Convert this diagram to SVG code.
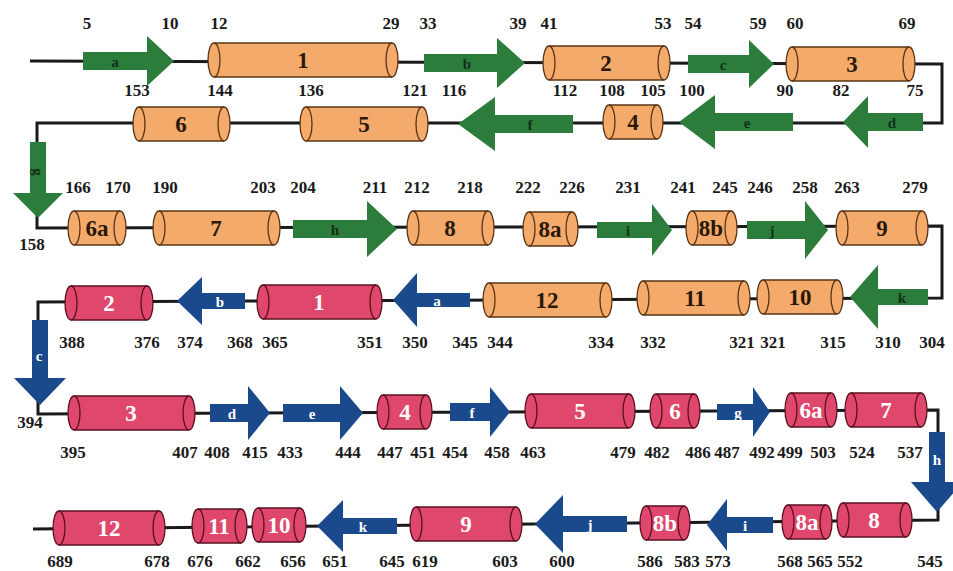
<svg xmlns="http://www.w3.org/2000/svg" width="953" height="571" viewBox="0 0 953 571">
<style>
.bg{fill:#ffffff}
.ln{fill:none;stroke:#1a1a1a;stroke-width:3}
.ho{fill:#F3AA6B;stroke:#5a3414;stroke-width:1.3}
.hr{fill:#E0476C;stroke:#5a1020;stroke-width:1.3}
.in{fill:none;stroke-width:1.3}
.io{stroke:#5a3414}
.ir{stroke:#5a1020}
.ag{fill:#2C7D3B}
.ab{fill:#1B4A8C}
.num{font-family:"Liberation Serif","Times New Roman",serif;font-weight:bold;font-size:17px;fill:#1a1a1a;text-anchor:middle}
.hlo{font-family:"Liberation Serif","Times New Roman",serif;font-weight:bold;font-size:23px;fill:#2a1808;text-anchor:middle;dominant-baseline:central}
.hlr{font-family:"Liberation Serif","Times New Roman",serif;font-weight:bold;font-size:23px;fill:#ffffff;text-anchor:middle;dominant-baseline:central}
.alg{font-family:"Liberation Serif","Times New Roman",serif;font-weight:bold;font-size:15px;fill:#12301a;text-anchor:middle;dominant-baseline:central}
.alb{font-family:"Liberation Serif","Times New Roman",serif;font-weight:bold;font-size:15px;fill:#ffffff;text-anchor:middle;dominant-baseline:central}
</style>
<rect class="bg" x="0" y="0" width="953" height="571"/>
<g id="connectors">
<path class="ln" d="M30,61 L942,64 V123 L37,123 V228 L942,226 V298 L38,302 V414 L938,410 V520 L33,529"/>
</g>
<!-- Row 1 -->
<g id="sa1"><path class="ag" d="M83,52 H147 V36 L174,61 L147,86 V70 H83 Z"/><text class="alg" x="115" y="62">a</text></g>
<g id="h1"><path class="ho" d="M214,43 H392 A6 17 0 0 1 392,77 H214 A6 17 0 0 1 214,43 Z"/><path class="in io" d="M214,43 A6 17 0 0 1 214,77 M392,43 A6 17 0 0 0 392,77"/><text class="hlo" x="303" y="60">1</text></g>
<g id="sb1"><path class="ag" d="M424,54 H497 V38 L525,63 L497,88 V72 H424 Z"/><text class="alg" x="467" y="64">b</text></g>
<g id="h2"><path class="ho" d="M549,46 H664 A6 17 0 0 1 664,80 H549 A6 17 0 0 1 549,46 Z"/><path class="in io" d="M549,46 A6 17 0 0 1 549,80 M664,46 A6 17 0 0 0 664,80"/><text class="hlo" x="606" y="63">2</text></g>
<g id="sc1"><path class="ag" d="M688,55 H749 V40 L774,64 L749,88 V73 H688 Z"/><text class="alg" x="723" y="65">c</text></g>
<g id="h3"><path class="ho" d="M792,47 H909 A6 17 0 0 1 909,81 H792 A6 17 0 0 1 792,47 Z"/><path class="in io" d="M792,47 A6 17 0 0 1 792,81 M909,47 A6 17 0 0 0 909,81"/><text class="hlo" x="852" y="64">3</text></g>
<!-- Row 2 -->
<g id="sd1"><path class="ag" d="M923,113 H868 V96 L843,122 L868,148 V131 H923 Z"/><text class="alg" x="892" y="123">d</text></g>
<g id="se1"><path class="ag" d="M793,113 H715 V95 L679,122 L715,149 V131 H793 Z"/><text class="alg" x="747" y="123">e</text></g>
<g id="h4"><path class="ho" d="M609,105 H657 A6 17 0 0 1 657,139 H609 A6 17 0 0 1 609,105 Z"/><path class="in io" d="M609,105 A6 17 0 0 1 609,139 M657,105 A6 17 0 0 0 657,139"/><text class="hlo" x="633" y="122">4</text></g>
<g id="sf1"><path class="ag" d="M573,115 H495 V97 L458,124 L495,151 V133 H573 Z"/><text class="alg" x="530" y="125">f</text></g>
<g id="h5"><path class="ho" d="M306,107 H422 A6 17 0 0 1 422,141 H306 A6 17 0 0 1 306,107 Z"/><path class="in io" d="M306,107 A6 17 0 0 1 306,141 M422,107 A6 17 0 0 0 422,141"/><text class="hlo" x="364" y="124">5</text></g>
<g id="h6"><path class="ho" d="M139,107 H224 A6 17 0 0 1 224,141 H139 A6 17 0 0 1 139,107 Z"/><path class="in io" d="M139,107 A6 17 0 0 1 139,141 M224,107 A6 17 0 0 0 224,141"/><text class="hlo" x="181" y="124">6</text></g>
<g id="sg1"><path class="ag" d="M30,142 H46 V193 H63 L38,218 L13,193 H30 Z"/><text class="alg" x="38" y="172" transform="rotate(90 38 172)">g</text></g>
<!-- Row 3 -->
<g id="h6a"><path class="ho" d="M74,211 H120 A6 17 0 0 1 120,245 H74 A6 17 0 0 1 74,211 Z"/><path class="in io" d="M74,211 A6 17 0 0 1 74,245 M120,211 A6 17 0 0 0 120,245"/><text class="hlo" x="97" y="228">6a</text></g>
<g id="h7"><path class="ho" d="M159,211 H274 A6 17 0 0 1 274,245 H159 A6 17 0 0 1 159,211 Z"/><path class="in io" d="M159,211 A6 17 0 0 1 159,245 M274,211 A6 17 0 0 0 274,245"/><text class="hlo" x="216" y="228">7</text></g>
<g id="sh1"><path class="ag" d="M293,220 H367 V201 L397,229 L367,257 V238 H293 Z"/><text class="alg" x="335" y="230">h</text></g>
<g id="h8"><path class="ho" d="M413,211 H488 A6 17 0 0 1 488,245 H413 A6 17 0 0 1 413,211 Z"/><path class="in io" d="M413,211 A6 17 0 0 1 413,245 M488,211 A6 17 0 0 0 488,245"/><text class="hlo" x="450" y="228">8</text></g>
<g id="h8a"><path class="ho" d="M529,212 H572 A6 17 0 0 1 572,246 H529 A6 17 0 0 1 529,212 Z"/><path class="in io" d="M529,212 A6 17 0 0 1 529,246 M572,212 A6 17 0 0 0 572,246"/><text class="hlo" x="550" y="229">8a</text></g>
<g id="si1"><path class="ag" d="M597,222 H652 V204 L672,230 L652,256 V238 H597 Z"/><text class="alg" x="628" y="231">i</text></g>
<g id="h8b"><path class="ho" d="M692,211 H731 A6 17 0 0 1 731,245 H692 A6 17 0 0 1 692,211 Z"/><path class="in io" d="M692,211 A6 17 0 0 1 692,245 M731,211 A6 17 0 0 0 731,245"/><text class="hlo" x="711" y="228">8b</text></g>
<g id="sj1"><path class="ag" d="M747,221 H805 V201 L828,230 L805,259 V239 H747 Z"/><text class="alg" x="772" y="231">j</text></g>
<g id="h9"><path class="ho" d="M842,211 H922 A6 17 0 0 1 922,245 H842 A6 17 0 0 1 842,211 Z"/><path class="in io" d="M842,211 A6 17 0 0 1 842,245 M922,211 A6 17 0 0 0 922,245"/><text class="hlo" x="882" y="228">9</text></g>
<!-- Row 4 -->
<g id="sk1"><path class="ag" d="M928,289 H878 V265 L850,297 L878,329 V305 H928 Z"/><text class="alg" x="902" y="298">k</text></g>
<g id="h10"><path class="ho" d="M763,280 H837 A6 17 0 0 1 837,314 H763 A6 17 0 0 1 763,280 Z"/><path class="in io" d="M763,280 A6 17 0 0 1 763,314 M837,280 A6 17 0 0 0 837,314"/><text class="hlo" x="800" y="297">10</text></g>
<g id="h11"><path class="ho" d="M643,281 H744 A6 17 0 0 1 744,315 H643 A6 17 0 0 1 643,281 Z"/><path class="in io" d="M643,281 A6 17 0 0 1 643,315 M744,281 A6 17 0 0 0 744,315"/><text class="hlo" x="695" y="298">11</text></g>
<g id="h12"><path class="ho" d="M489,283 H606 A6 17 0 0 1 606,317 H489 A6 17 0 0 1 489,283 Z"/><path class="in io" d="M489,283 A6 17 0 0 1 489,317 M606,283 A6 17 0 0 0 606,317"/><text class="hlo" x="547" y="300">12</text></g>
<g id="sa2"><path class="ab" d="M470,293 H417 V273 L393,300 L417,327 V307 H470 Z"/><text class="alb" x="437" y="301">a</text></g>
<g id="r1"><path class="hr" d="M263,285 H376 A6 17 0 0 1 376,319 H263 A6 17 0 0 1 263,285 Z"/><path class="in ir" d="M263,285 A6 17 0 0 1 263,319 M376,285 A6 17 0 0 0 376,319"/><text class="hlr" x="319" y="302">1</text></g>
<g id="sb2"><path class="ab" d="M245,293 H202 V277 L177,301 L202,325 V309 H245 Z"/><text class="alb" x="220" y="302">b</text></g>
<g id="r2"><path class="hr" d="M71,286 H147 A6 17 0 0 1 147,320 H71 A6 17 0 0 1 71,286 Z"/><path class="in ir" d="M71,286 A6 17 0 0 1 71,320 M147,286 A6 17 0 0 0 147,320"/><text class="hlr" x="109" y="303">2</text></g>
<g id="sc2"><path class="ab" d="M32,320 H48 V378 H66 L40,405 L14,378 H32 Z"/><text class="alb" x="39" y="356">c</text></g>
<!-- Row 5 -->
<g id="r3"><path class="hr" d="M74,396 H189 A6 17 0 0 1 189,430 H74 A6 17 0 0 1 74,396 Z"/><path class="in ir" d="M74,396 A6 17 0 0 1 74,430 M189,396 A6 17 0 0 0 189,430"/><text class="hlr" x="131" y="413">3</text></g>
<g id="sd2"><path class="ab" d="M210,404 H248 V386 L270,413 L248,440 V422 H210 Z"/><text class="alb" x="232" y="414">d</text></g>
<g id="se2"><path class="ab" d="M283,404 H340 V386 L363,413 L340,440 V422 H283 Z"/><text class="alb" x="312" y="414">e</text></g>
<g id="r4"><path class="hr" d="M383,395 H426 A6 17 0 0 1 426,429 H383 A6 17 0 0 1 383,395 Z"/><path class="in ir" d="M383,395 A6 17 0 0 1 383,429 M426,395 A6 17 0 0 0 426,429"/><text class="hlr" x="405" y="412">4</text></g>
<g id="sf2"><path class="ab" d="M450,403 H490 V387 L510,412 L490,437 V421 H450 Z"/><text class="alb" x="472" y="413">f</text></g>
<g id="r5"><path class="hr" d="M531,394 H629 A6 17 0 0 1 629,428 H531 A6 17 0 0 1 531,394 Z"/><path class="in ir" d="M531,394 A6 17 0 0 1 531,428 M629,394 A6 17 0 0 0 629,428"/><text class="hlr" x="580" y="411">5</text></g>
<g id="r6"><path class="hr" d="M656,394 H694 A6 17 0 0 1 694,428 H656 A6 17 0 0 1 656,394 Z"/><path class="in ir" d="M656,394 A6 17 0 0 1 656,428 M694,394 A6 17 0 0 0 694,428"/><text class="hlr" x="675" y="411">6</text></g>
<g id="sg2"><path class="ab" d="M717,404 H753 V387 L770,412 L753,437 V420 H717 Z"/><text class="alb" x="738" y="413">g</text></g>
<g id="r6a"><path class="hr" d="M791,393 H831 A6 17 0 0 1 831,427 H791 A6 17 0 0 1 791,393 Z"/><path class="in ir" d="M791,393 A6 17 0 0 1 791,427 M831,393 A6 17 0 0 0 831,427"/><text class="hlr" x="811" y="410">6a</text></g>
<g id="r7"><path class="hr" d="M851,393 H921 A6 17 0 0 1 921,427 H851 A6 17 0 0 1 851,393 Z"/><path class="in ir" d="M851,393 A6 17 0 0 1 851,427 M921,393 A6 17 0 0 0 921,427"/><text class="hlr" x="886" y="410">7</text></g>
<g id="sh2"><path class="ab" d="M929,432 H945 V482 H963 L937,512 L911,482 H929 Z"/><text class="alb" x="937" y="460">h</text></g>
<!-- Row 6 -->
<g id="r8"><path class="hr" d="M843,503 H906 A6 17 0 0 1 906,537 H843 A6 17 0 0 1 843,503 Z"/><path class="in ir" d="M843,503 A6 17 0 0 1 843,537 M906,503 A6 17 0 0 0 906,537"/><text class="hlr" x="874" y="520">8</text></g>
<g id="r8a"><path class="hr" d="M788,505 H826 A6 17 0 0 1 826,539 H788 A6 17 0 0 1 788,505 Z"/><path class="in ir" d="M788,505 A6 17 0 0 1 788,539 M826,505 A6 17 0 0 0 826,539"/><text class="hlr" x="807" y="522">8a</text></g>
<g id="si2"><path class="ab" d="M773,517 H727 V499 L707,525 L727,551 V533 H773 Z"/><text class="alb" x="745" y="526">i</text></g>
<g id="r8b"><path class="hr" d="M646,506 H684 A6 17 0 0 1 684,540 H646 A6 17 0 0 1 646,506 Z"/><path class="in ir" d="M646,506 A6 17 0 0 1 646,540 M684,506 A6 17 0 0 0 684,540"/><text class="hlr" x="665" y="523">8b</text></g>
<g id="sj2"><path class="ab" d="M627,516 H563 V495 L535,524 L563,553 V532 H627 Z"/><text class="alb" x="590" y="525">j</text></g>
<g id="r9"><path class="hr" d="M416,507 H516 A6 17 0 0 1 516,541 H416 A6 17 0 0 1 416,507 Z"/><path class="in ir" d="M416,507 A6 17 0 0 1 416,541 M516,507 A6 17 0 0 0 516,541"/><text class="hlr" x="466" y="524">9</text></g>
<g id="sk2"><path class="ab" d="M397,518 H343 V500 L317,526 L343,552 V534 H397 Z"/><text class="alb" x="363" y="527">k</text></g>
<g id="r10"><path class="hr" d="M258,508 H300 A6 17 0 0 1 300,542 H258 A6 17 0 0 1 258,508 Z"/><path class="in ir" d="M258,508 A6 17 0 0 1 258,542 M300,508 A6 17 0 0 0 300,542"/><text class="hlr" x="279" y="525">10</text></g>
<g id="r11"><path class="hr" d="M198,509 H241 A6 17 0 0 1 241,543 H198 A6 17 0 0 1 198,509 Z"/><path class="in ir" d="M198,509 A6 17 0 0 1 198,543 M241,509 A6 17 0 0 0 241,543"/><text class="hlr" x="219" y="526">11</text></g>
<g id="r12"><path class="hr" d="M59,511 H159 A6 17 0 0 1 159,545 H59 A6 17 0 0 1 59,511 Z"/><path class="in ir" d="M59,511 A6 17 0 0 1 59,545 M159,511 A6 17 0 0 0 159,545"/><text class="hlr" x="109" y="528">12</text></g>
<g id="numbers">
<text class="num" x="87" y="29">5</text><text class="num" x="170" y="29">10</text><text class="num" x="219" y="29">12</text><text class="num" x="391" y="29">29</text><text class="num" x="428" y="29">33</text><text class="num" x="518" y="29">39</text><text class="num" x="549" y="29">41</text><text class="num" x="663" y="29">53</text><text class="num" x="693" y="29">54</text><text class="num" x="758" y="29">59</text><text class="num" x="795" y="29">60</text><text class="num" x="907" y="29">69</text>
<text class="num" x="137" y="96">153</text><text class="num" x="220" y="96">144</text><text class="num" x="311" y="96">136</text><text class="num" x="415" y="96">121</text><text class="num" x="454" y="96">116</text><text class="num" x="565" y="96">112</text><text class="num" x="612" y="96">108</text><text class="num" x="653" y="96">105</text><text class="num" x="692" y="96">100</text><text class="num" x="785" y="96">90</text><text class="num" x="841" y="96">82</text><text class="num" x="915" y="96">75</text>
<text class="num" x="78" y="193">166</text><text class="num" x="118" y="193">170</text><text class="num" x="165" y="193">190</text><text class="num" x="263" y="193">203</text><text class="num" x="303" y="193">204</text><text class="num" x="375" y="193">211</text><text class="num" x="417" y="193">212</text><text class="num" x="470" y="193">218</text><text class="num" x="528" y="193">222</text><text class="num" x="572" y="193">226</text><text class="num" x="628" y="193">231</text><text class="num" x="683" y="193">241</text><text class="num" x="725" y="193">245</text><text class="num" x="760" y="193">246</text><text class="num" x="805" y="193">258</text><text class="num" x="847" y="193">263</text><text class="num" x="915" y="193">279</text>
<text class="num" x="32" y="250">158</text>
<text class="num" x="72" y="348">388</text><text class="num" x="147" y="348">376</text><text class="num" x="190" y="348">374</text><text class="num" x="240" y="348">368</text><text class="num" x="275" y="348">365</text><text class="num" x="370" y="348">351</text><text class="num" x="415" y="348">350</text><text class="num" x="465" y="348">345</text><text class="num" x="500" y="348">344</text><text class="num" x="601" y="348">334</text><text class="num" x="653" y="348">332</text><text class="num" x="742" y="348">321</text><text class="num" x="773" y="348">321</text><text class="num" x="833" y="348">315</text><text class="num" x="888" y="348">310</text><text class="num" x="932" y="348">304</text>
<text class="num" x="30" y="428">394</text>
<text class="num" x="73" y="458">395</text><text class="num" x="185" y="458">407</text><text class="num" x="217" y="458">408</text><text class="num" x="255" y="458">415</text><text class="num" x="290" y="458">433</text><text class="num" x="348" y="458">444</text><text class="num" x="390" y="458">447</text><text class="num" x="423" y="458">451</text><text class="num" x="455" y="458">454</text><text class="num" x="497" y="458">458</text><text class="num" x="533" y="458">463</text><text class="num" x="623" y="458">479</text><text class="num" x="657" y="458">482</text><text class="num" x="698" y="458">486</text><text class="num" x="727" y="458">487</text><text class="num" x="762" y="458">492</text><text class="num" x="790" y="458">499</text><text class="num" x="823" y="458">503</text><text class="num" x="862" y="458">524</text><text class="num" x="910" y="458">537</text>
<text class="num" x="60" y="567">689</text><text class="num" x="157" y="567">678</text><text class="num" x="200" y="567">676</text><text class="num" x="248" y="567">662</text><text class="num" x="293" y="567">656</text><text class="num" x="335" y="567">651</text><text class="num" x="392" y="567">645</text><text class="num" x="425" y="567">619</text><text class="num" x="505" y="567">603</text><text class="num" x="562" y="567">600</text><text class="num" x="650" y="567">586</text><text class="num" x="687" y="567">583</text><text class="num" x="718" y="567">573</text><text class="num" x="790" y="567">568</text><text class="num" x="820" y="567">565</text><text class="num" x="850" y="567">552</text><text class="num" x="930" y="567">545</text>
</g>
</svg>
